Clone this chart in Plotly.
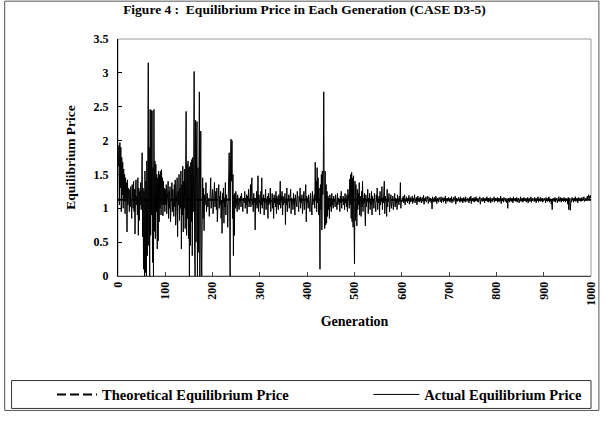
import plotly.graph_objects as go

# ---------------- data ----------------
generations = list(range(1, 1001))
theoretical_price = 1.125
actual_price = [
    # 1-100
    1.62,1.93,1.05,1.97,1.30,1.90,0.95,1.75,1.20,1.68,1.00,1.58,1.10,1.50,0.92,1.45,1.15,1.38,0.65,1.42,
    1.05,1.30,1.12,0.95,1.28,1.02,1.32,1.08,0.85,1.35,1.10,1.00,1.40,0.95,1.28,0.62,1.22,1.42,1.05,1.18,
    0.90,1.45,0.60,1.30,0.82,1.25,1.05,1.38,0.98,1.20,1.82,0.58,1.30,0.10,1.25,0.00,1.55,0.05,1.40,0.00,
    1.70,0.30,2.10,3.15,0.45,1.90,0.00,2.46,0.60,2.45,0.90,2.44,0.20,1.60,0.00,2.46,0.66,1.70,0.55,1.65,
    0.95,1.50,0.40,1.45,0.52,1.55,0.80,1.50,1.00,1.55,0.90,1.57,1.05,1.45,0.89,1.40,1.05,1.30,0.95,1.28,
    # 101-200
    1.05,1.35,0.92,1.22,1.10,1.40,0.85,1.25,1.00,1.32,0.80,1.18,1.05,1.38,0.95,1.28,1.12,0.88,1.35,1.02,
    1.42,0.75,1.20,0.95,1.45,0.58,1.25,1.05,1.50,0.82,1.30,1.00,1.55,0.40,1.35,0.90,1.62,0.65,1.40,1.00,
    1.58,0.70,1.45,2.43,0.60,1.65,0.85,1.70,0.55,1.60,0.00,1.62,0.45,1.68,0.80,1.72,0.30,1.75,0.95,1.65,
    3.02,0.40,0.00,2.30,0.50,1.80,2.28,0.00,1.60,0.35,1.75,2.72,0.00,1.70,2.14,0.40,0.00,0.75,1.45,0.85,
    1.30,0.67,1.20,1.05,1.12,1.38,0.95,1.10,1.22,1.02,1.15,1.08,0.88,1.25,1.12,1.45,1.00,1.18,1.10,1.28,
    # 201-300
    0.92,1.15,1.08,1.38,1.02,1.10,1.25,0.98,1.30,0.80,1.15,1.08,1.35,1.00,1.18,1.05,1.25,0.85,1.12,0.63,
    1.22,1.08,1.30,0.78,1.15,1.02,1.38,0.90,1.20,1.10,1.05,0.72,1.40,1.05,1.82,1.30,0.00,1.78,2.02,1.40,
    2.00,0.85,1.50,0.30,1.20,0.60,1.22,1.00,1.25,1.05,1.15,0.95,1.20,1.08,1.12,0.98,1.15,1.10,1.18,1.02,
    1.22,1.05,1.12,0.95,1.15,1.10,1.08,1.25,1.00,1.15,1.05,1.20,0.92,1.18,1.10,1.28,1.02,1.12,1.08,1.35,
    1.02,1.18,1.45,1.05,1.12,0.95,1.22,1.08,1.15,0.68,1.15,1.05,1.25,1.00,1.12,1.48,0.95,1.20,1.08,1.12,
    # 301-400
    0.92,1.25,1.05,1.45,1.00,1.15,1.10,1.20,0.90,1.15,1.08,1.28,0.98,1.12,1.10,1.18,0.85,1.22,1.05,1.15,
    1.08,1.30,0.95,1.12,1.10,1.22,1.00,1.15,0.85,1.20,1.08,1.15,1.02,1.25,0.92,1.18,1.10,1.12,0.98,1.20,
    1.05,1.15,1.40,1.00,1.12,1.10,1.25,0.90,1.18,1.05,1.15,1.08,1.22,0.76,1.15,1.05,1.30,0.95,1.12,1.10,
    1.20,1.00,1.15,1.08,1.28,0.92,1.15,1.12,1.12,0.98,1.22,1.05,1.15,0.90,1.20,1.08,1.15,1.02,1.25,1.05,
    1.12,0.95,1.18,1.10,1.30,1.00,1.15,1.08,1.20,0.92,1.15,1.05,1.25,0.98,1.12,1.10,1.35,0.80,1.18,1.08,
    # 401-500
    1.15,1.00,1.20,1.05,1.12,0.95,1.22,1.08,1.15,0.90,1.25,1.05,1.12,1.10,1.20,1.00,1.68,1.12,1.40,0.95,
    1.60,1.08,1.45,0.90,1.30,1.02,0.10,1.35,0.98,1.50,0.68,1.55,1.20,1.52,2.72,1.00,0.70,1.55,0.75,1.35,
    0.78,1.25,0.88,1.18,0.98,1.15,0.85,1.20,1.02,1.15,0.95,1.22,1.05,1.12,1.00,1.18,1.10,1.12,1.02,1.20,
    1.08,1.12,0.98,1.22,1.05,1.15,1.10,1.12,0.95,1.18,1.08,1.25,1.00,1.12,1.10,1.18,1.05,1.15,0.98,1.22,
    1.08,1.12,1.02,1.20,0.95,1.28,1.10,1.15,1.00,1.43,1.05,1.50,0.85,1.53,0.80,1.45,0.72,1.48,1.00,0.18,
    # 501-600
    1.40,0.82,1.35,0.92,0.74,1.28,0.98,1.22,1.05,1.38,0.90,1.18,1.10,0.88,1.25,1.02,1.40,0.95,1.15,1.08,
    1.22,0.98,0.74,1.20,1.02,1.12,1.10,1.28,0.92,1.15,1.08,1.22,0.98,1.12,1.05,1.25,0.90,1.18,1.10,1.12,
    1.00,1.22,1.08,1.15,0.95,1.20,1.10,1.30,0.98,1.12,1.08,1.18,0.90,1.25,1.05,1.12,1.10,1.32,0.98,1.15,
    1.08,1.22,1.40,0.92,1.18,1.10,1.12,0.88,1.28,1.02,1.15,1.10,1.22,0.95,1.12,1.08,1.20,1.00,1.12,1.10,
    1.18,0.98,1.12,1.10,1.22,1.02,1.15,1.08,1.12,0.98,1.20,1.10,1.12,1.05,1.18,1.10,1.38,1.00,1.12,1.10,
    # 601-700
    1.15,1.10,1.18,1.08,1.12,1.20,1.05,1.14,1.10,1.17,1.12,1.08,1.15,1.11,1.19,1.06,1.13,1.16,1.09,1.14,
    1.12,1.18,1.07,1.15,1.10,1.13,1.20,1.08,1.14,1.11,1.16,1.05,1.13,1.18,1.10,1.12,1.15,1.09,1.17,1.11,
    1.14,1.08,1.16,1.12,1.10,1.19,1.06,1.13,1.15,1.11,1.17,1.09,1.14,1.12,1.18,1.07,1.13,1.16,1.10,1.12,
    1.15,1.08,1.13,0.99,1.17,1.11,1.14,1.09,1.16,1.12,1.10,1.18,1.13,1.07,1.15,1.11,1.14,1.09,1.16,1.12,
    1.13,1.10,1.17,1.08,1.14,1.12,1.16,1.09,1.13,1.15,1.11,1.18,1.07,1.14,1.12,1.15,1.10,1.13,1.16,1.11,
    # 701-800
    1.14,1.09,1.15,1.12,1.17,1.08,1.13,1.11,1.16,1.10,1.14,1.12,1.18,1.06,1.13,1.15,1.10,1.14,1.12,1.16,
    1.11,1.13,1.09,1.17,1.12,1.14,1.10,1.15,1.08,1.13,1.16,1.11,1.14,1.09,1.17,1.12,1.13,1.10,1.15,1.12,
    1.14,1.08,1.16,1.11,1.13,1.18,1.07,1.14,1.12,1.15,1.10,1.13,1.16,1.09,1.14,1.11,1.17,1.12,1.13,1.10,
    1.15,1.09,1.14,1.12,1.17,1.06,1.13,1.15,1.11,1.14,1.10,1.16,1.12,1.13,1.08,1.15,1.11,1.14,1.12,1.17,
    1.10,1.13,1.15,1.09,1.14,1.12,1.16,1.08,1.13,1.11,1.15,1.10,1.14,1.12,1.17,1.09,1.13,1.15,1.11,1.14,
    # 801-900
    1.12,1.16,1.09,1.13,1.15,1.10,1.14,1.12,1.18,1.07,1.13,1.15,1.11,1.14,1.09,1.16,1.12,1.13,1.10,1.15,
    1.12,1.08,1.14,1.00,1.15,1.11,1.13,1.09,1.16,1.12,1.14,1.10,1.15,1.13,1.08,1.17,1.11,1.14,1.12,1.15,
    1.10,1.13,1.16,1.09,1.14,1.12,1.15,1.08,1.13,1.11,1.17,1.10,1.14,1.12,1.15,1.09,1.13,1.16,1.11,1.14,
    1.12,1.15,1.09,1.13,1.11,1.16,1.08,1.14,1.12,1.15,1.10,1.13,1.17,1.09,1.14,1.11,1.15,1.12,1.13,1.10,
    1.16,1.11,1.14,1.08,1.13,1.15,1.12,1.17,1.09,1.14,1.11,1.13,1.16,1.10,1.14,1.12,1.15,1.09,1.13,1.11,
    # 901-1000
    1.15,1.12,1.14,1.08,1.16,1.11,1.13,1.10,1.15,1.12,1.17,1.09,1.14,1.11,1.13,1.06,1.12,0.98,1.14,1.11,
    1.15,1.10,1.13,1.16,1.09,1.14,1.12,1.15,1.08,1.13,1.11,1.17,1.10,1.14,1.12,1.16,1.09,1.13,1.15,1.11,
    1.14,1.10,1.16,1.12,1.13,1.09,1.15,1.11,1.14,1.12,1.06,1.16,0.98,1.13,1.15,0.97,1.12,1.14,1.10,1.16,
    1.12,1.14,1.09,1.15,1.11,1.13,1.17,1.10,1.14,1.12,1.15,1.08,1.13,1.16,1.11,1.14,1.12,1.15,1.10,1.13,
    1.16,1.11,1.14,1.12,1.17,1.10,1.13,1.15,1.11,1.14,1.12,1.18,1.13,1.16,1.20,1.14,1.18,1.15,1.19,1.16,
]
x_ticks = [0, 100, 200, 300, 400, 500, 600, 700, 800, 900, 1000]
y_ticks = [0, 0.5, 1, 1.5, 2, 2.5, 3, 3.5]
y_tick_labels = ["0", "0.5", "1", "1.5", "2", "2.5", "3", "3.5"]

title_text = "Figure 4 :  Equilibrium Price in Each Generation (CASE D3-5)"
legend_theoretical = "Theoretical Equilibrium Price"
legend_actual = "Actual Equilibrium Price"

# ---------------- figure ----------------
W, H = 609, 421
L, R, T, B = 118, 11, 39, 144
pw, ph = W - L - R, H - T - B

def px_x(p):
    return (p - L) / pw

def px_y(p):
    return (H - B - p) / ph

FONT = "Liberation Serif, Times New Roman, serif"

fig = go.Figure()
fig.add_trace(go.Scatter(
    x=[0, 1000], y=[theoretical_price, theoretical_price],
    mode="lines", name=legend_theoretical,
    line=dict(color="black", width=2, dash="9px,4px"),
    legend="legend", cliponaxis=True,
))
fig.add_trace(go.Scatter(
    x=generations, y=actual_price,
    mode="lines", name=legend_actual,
    line=dict(color="black", width=1),
    legend="legend2", cliponaxis=True,
))

shapes = [
    # outer frame
    dict(type="rect", xref="paper", yref="paper",
         x0=px_x(3), x1=px_x(606), y0=px_y(412), y1=px_y(1),
         line=dict(color="#555555", width=1), layer="below"),
    # plot area frame
    dict(type="rect", xref="paper", yref="paper", x0=0, x1=1, y0=0, y1=1,
         line=dict(color="#9a9a9a", width=1), layer="below"),
    # legend box
    dict(type="rect", xref="paper", yref="paper",
         x0=px_x(10), x1=px_x(598), y0=px_y(410), y1=px_y(382),
         line=dict(color="#333333", width=1), layer="below"),
]

legend_font = dict(family=FONT, size=14.5, color="black", weight="bold")

fig.update_layout(
    width=W, height=H,
    margin=dict(l=L, r=R, t=T, b=B),
    paper_bgcolor="white", plot_bgcolor="white",
    title=dict(text=title_text, x=0.5, xref="container", xanchor="center",
               y=1 - 9 / H, yref="container", yanchor="middle",
               font=dict(family=FONT, size=13.5, color="black", weight="bold")),
    xaxis=dict(
        range=[0, 1000], tickmode="array", tickvals=x_ticks,
        ticktext=[str(v) for v in x_ticks], tickangle=-90,
        ticks="inside", ticklen=4, tickcolor="#444444",
        showline=True, linecolor="#444444", linewidth=1,
        showgrid=False, zeroline=False,
        tickfont=dict(family=FONT, size=12, color="black", weight="bold"),
        title=dict(text="Generation", standoff=11,
                   font=dict(family=FONT, size=14, color="black", weight="bold")),
    ),
    yaxis=dict(
        range=[0, 3.5], tickmode="array", tickvals=y_ticks, ticktext=y_tick_labels,
        ticks="inside", ticklen=4, tickcolor="black",
        showline=True, linecolor="black", linewidth=1,
        showgrid=False, zeroline=False, ticklabelstandoff=6,
        tickfont=dict(family=FONT, size=12, color="black", weight="bold"),
        title=dict(text="Equilibrium Price", standoff=14,
                   font=dict(family=FONT, size=13.5, color="black", weight="bold")),
    ),
    showlegend=True,
    legend=dict(x=px_x(51), xanchor="left", y=px_y(396), yanchor="middle",
                bgcolor="rgba(0,0,0,0)", borderwidth=0, font=legend_font,
                itemwidth=40),
    legend2=dict(x=px_x(372), xanchor="left", y=px_y(396), yanchor="middle",
                 bgcolor="rgba(0,0,0,0)", borderwidth=0, font=legend_font,
                 itemwidth=46),
    shapes=shapes,
)

fig.write_html(
    "out.html",
    config={"displayModeBar": False},
    post_script="document.body.style.margin='0';document.body.style.overflow='hidden';",
)
